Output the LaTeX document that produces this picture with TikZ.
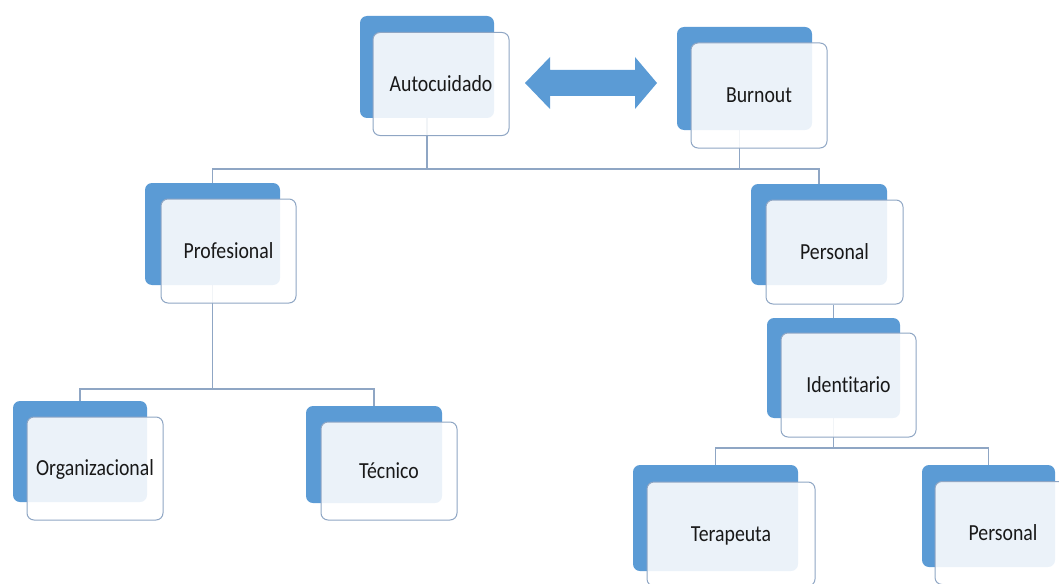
\documentclass[tikz,border=0pt]{standalone}
\usepackage{fontspec}
\setmainfont{Carlito}[Ligatures=NoCommon, FakeStretch=0.86]
\usetikzlibrary{backgrounds}
\definecolor{azul}{RGB}{91,155,213}
\definecolor{borde}{RGB}{143,166,196}
\tikzset{
  atras/.style={fill=azul, rounded corners=7pt, inner sep=0pt},
  frente/.style={draw=borde, line width=1pt, fill=white, fill opacity=0.88, text opacity=1,
    rounded corners=7pt, inner sep=0pt, text height=14.5pt, text depth=0pt,
    font=\fontsize{23}{26}\selectfont, text=black!90},
  linea/.style={draw=borde, line width=1.2pt}
}
\begin{document}
\begin{tikzpicture}[x=1pt,y=-1pt]
\useasboundingbox (0,0) rectangle (1059,583);
\clip (0,0) rectangle (1059,583);
\node[atras, minimum width=134, minimum height=102] (autocuidado-a) at (427,67) {};
\node[frente, minimum width=136, minimum height=103] (autocuidado) at (441,84) {Autocuidado};
\node[atras, minimum width=135, minimum height=103] (burnout-a) at (744.5,78.5) {};
\node[frente, minimum width=136, minimum height=105] (burnout) at (759,95.5) {Burnout};
\node[atras, minimum width=135, minimum height=102] (profesional-a) at (212.5,234) {};
\node[frente, minimum width=135, minimum height=104] (profesional) at (228.5,251) {Profesional};
\node[atras, minimum width=136, minimum height=101] (personal-a) at (819,234.5) {};
\node[frente, minimum width=137, minimum height=104] (personal) at (834.5,252) {Personal};
\node[atras, minimum width=134, minimum height=101] (organizacional-a) at (80,451.5) {};
\node[frente, minimum width=136, minimum height=103] (organizacional) at (95,468.5) {Organizacional};
\node[atras, minimum width=136, minimum height=97] (tecnico-a) at (374,454.5) {};
\node[frente, minimum width=136, minimum height=98] (tecnico) at (389,471) {Técnico};
\node[atras, minimum width=133, minimum height=100] (identitario-a) at (833.5,368) {};
\node[frente, minimum width=135, minimum height=104] (identitario) at (848.5,385) {Identitario};
\node[atras, minimum width=165, minimum height=106] (terapeuta-a) at (715.5,518) {};
\node[frente, minimum width=168, minimum height=104] (terapeuta) at (731,534) {Terapeuta};
\node[atras, minimum width=133, minimum height=102] (personal2-a) at (988.5,516) {};
\node[frente, minimum width=136, minimum height=103] (personal2) at (1003,533) {Personal};
\fill[azul] (525,83) -- (550,57) -- (550,70) -- (635,70) -- (635,57) -- (657,83)
  -- (635,109) -- (635,96) -- (550,96) -- (550,109) -- cycle;
\coordinate (bus1) at (0,169);
\coordinate (bus2) at (0,389);
\coordinate (bus3) at (0,448);
\begin{scope}[on background layer]
\draw[linea] (autocuidado-a.center) -- (autocuidado-a.center |- bus1) -| (profesional-a.north);
\draw[linea] (autocuidado-a.center |- bus1) -| (personal-a.north);
\draw[linea] ([xshift=-5]burnout-a.center) -- ([xshift=-5]burnout-a.center |- bus1);
\draw[linea] (profesional-a.center) -- (profesional-a.center |- bus2) -| (organizacional-a.north);
\draw[linea] (profesional-a.center |- bus2) -| (tecnico-a.north);
\draw[linea] (identitario-a.center) -- (identitario-a.center |- personal.south);
\draw[linea] (identitario-a.center) -- (identitario-a.center |- bus3) -| (terapeuta-a.north);
\draw[linea] (identitario-a.center |- bus3) -| (personal2-a.north);
\end{scope}
\end{tikzpicture}
\end{document}
